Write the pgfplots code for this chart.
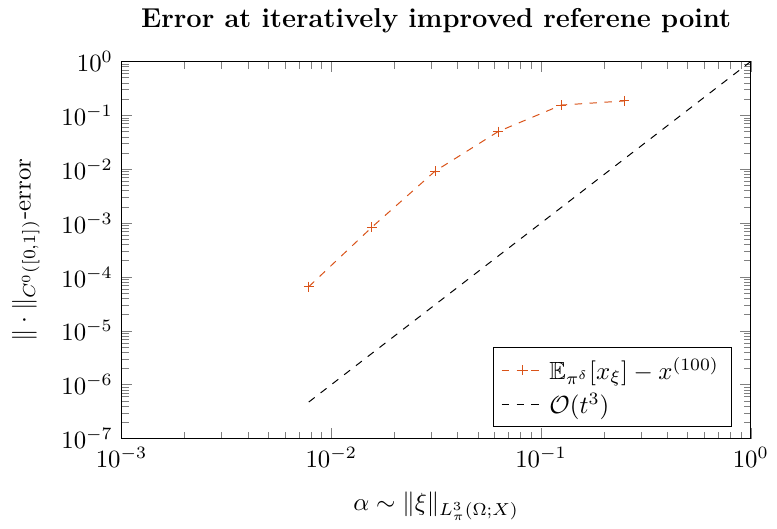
\documentclass[border=0pt]{standalone}
\usepackage{pgfplots}
\pgfplotsset{compat=1.18}
\usepackage{amsmath,amssymb}
\definecolor{myorange}{RGB}{217,83,25}
\begin{document}
\begin{tikzpicture}
\begin{loglogaxis}[
  name=ax,
  scale only axis,
  width=253.6pt, height=152pt,
  xmin=1e-3, xmax=1, ymin=1e-7, ymax=1,
  title={\fontsize{11}{13}\selectfont\bfseries Error at iteratively improved referene point},
  title style={yshift=2pt},
  xlabel={$\alpha\sim\|\xi\|_{L^3_\pi(\Omega;X)}$},
  ylabel={$\|\cdot\|_{C^0([0,1])}$-error},
  ylabel shift=2pt,
  xlabel shift=3pt,
  legend pos=south east,
  legend cell align=left,
]
\addplot[myorange, dashed, mark=+, mark options={solid}] coordinates {
(0.0078125, 6.6e-5)
(0.015625, 8.4e-4)
(0.03125, 9.2e-3)
(0.0625, 5.0e-2)
(0.125, 1.55e-1)
(0.25, 1.85e-1)
};
\addlegendentry{$\mathbb{E}_{\pi^\delta}[x_\xi]-x^{(100)}$}
\addplot[black, dashed] coordinates {
(0.0078125, 4.768e-7)
(1, 1)
};
\addlegendentry{$\mathcal{O}(t^3)$}
\end{loglogaxis}
\path ([xshift=-49pt]ax.south west) -- ([xshift=-49pt]ax.north west);
\end{tikzpicture}
\end{document}
